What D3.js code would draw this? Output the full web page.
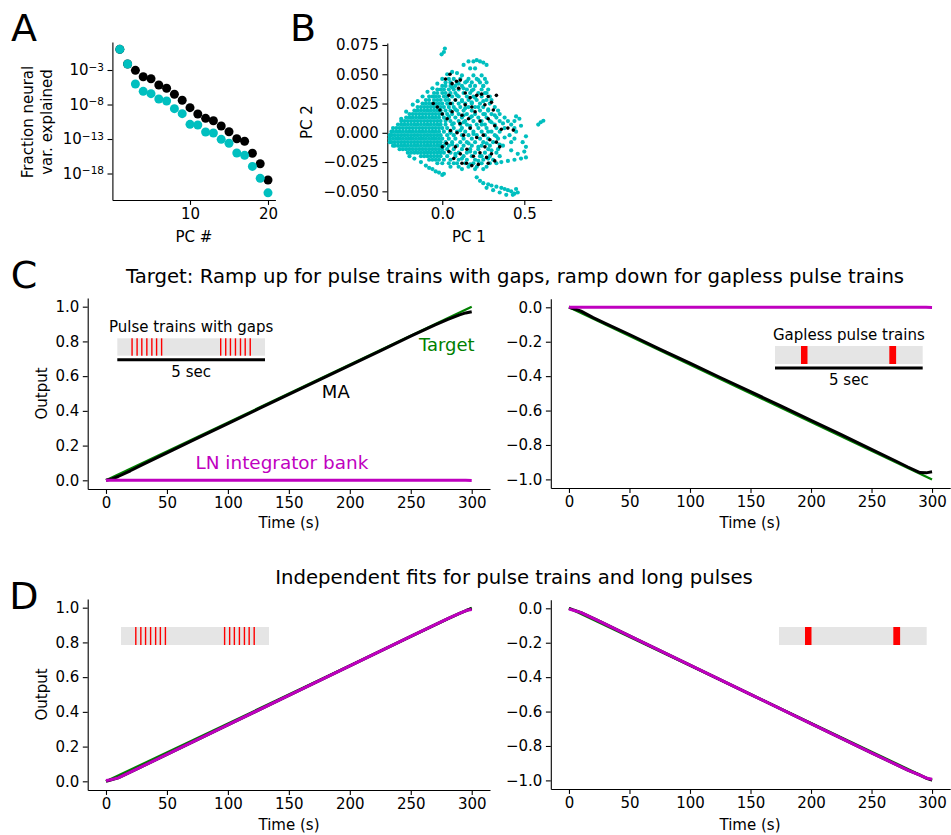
<!DOCTYPE html>
<html>
<head>
<meta charset="utf-8">
<script src="https://cdn.jsdelivr.net/npm/d3@7"></script>
<style>
  body { margin: 0; background: #fff; }
  text { font-family: "DejaVu Sans", sans-serif; }
</style>
</head>
<body>
<script>
// ---- data ----
var pcIndex = [1,2,3,4,5,6,7,8,9,10,11,12,13,14,15,16,17,18,19,20];
// log10 of fraction of neural variance explained
var logVarMA = [0.0,-2.13,-3.05,-3.97,-4.26,-5.17,-5.65,-6.52,-7.39,-8.46,-9.38,-10.0,-10.35,-11.12,-11.94,-12.96,-13.33,-15.07,-16.58,-18.94];
var logVarLN = [0.0,-2.13,-5.03,-6.09,-6.43,-7.2,-7.49,-8.6,-9.33,-10.87,-10.97,-11.99,-12.13,-13.05,-13.62,-15.03,-15.37,-16.97,-18.7,-20.8];
var logTicksA = [-3,-8,-13,-18];

// PC projection cloud, rows of [pc2, [pc1 values]]
var cyanRows = [
  [0.049,[0.12,0.19,0.24]],
  [0.046,[0.04,0.07,0.11,0.16,0.21,0.26]],
  [0.043,[0.02,0.05,0.09,0.14,0.18,0.23,0.27]],
  [0.040,[0.0,0.02,0.05,0.08,0.12,0.17,0.2,0.25]],
  [0.037,[-0.03,-0.01,0.01,0.04,0.07,0.1,0.15,0.19,0.24,0.28]],
  [0.034,[-0.05,-0.03,0.0,0.02,0.05,0.08,0.13,0.17,0.22,0.26]],
  [0.031,[-0.08,-0.06,-0.04,-0.02,0.01,0.03,0.06,0.1,0.15,0.19,0.24,0.29]],
  [0.028,[-0.1,-0.08,-0.05,-0.03,-0.01,0.02,0.04,0.08,0.12,0.16,0.21,0.27,0.3]],
  [0.025,[-0.12,-0.1,-0.08,-0.06,-0.04,-0.02,0.0,0.03,0.06,0.1,0.14,0.18,0.23,0.29]],
  [0.022,[-0.15,-0.13,-0.11,-0.09,-0.07,-0.05,-0.03,-0.01,0.01,0.04,0.07,0.11,0.16,0.2,0.25,0.32]],
  [0.019,[-0.17,-0.15,-0.13,-0.11,-0.09,-0.07,-0.05,-0.03,-0.01,0.02,0.05,0.09,0.13,0.18,0.23,0.28,0.34]],
  [0.016,[-0.2,-0.18,-0.16,-0.14,-0.12,-0.1,-0.08,-0.06,-0.04,-0.02,0.0,0.03,0.06,0.1,0.15,0.2,0.26,0.3,0.35]],
  [0.013,[-0.22,-0.2,-0.18,-0.16,-0.14,-0.12,-0.1,-0.08,-0.06,-0.04,-0.02,0.01,0.04,0.08,0.12,0.17,0.22,0.27,0.33,0.38]],
  [0.010,[-0.25,-0.23,-0.21,-0.19,-0.17,-0.15,-0.13,-0.11,-0.09,-0.07,-0.05,-0.03,-0.01,0.02,0.05,0.1,0.14,0.19,0.24,0.29,0.35,0.4]],
  [0.007,[-0.27,-0.25,-0.23,-0.21,-0.19,-0.17,-0.15,-0.13,-0.11,-0.09,-0.07,-0.05,-0.03,-0.01,0.02,0.06,0.11,0.15,0.21,0.26,0.32,0.42]],
  [0.004,[-0.3,-0.28,-0.26,-0.24,-0.22,-0.2,-0.18,-0.16,-0.14,-0.12,-0.1,-0.08,-0.06,-0.04,-0.02,0.0,0.03,0.07,0.12,0.17,0.22,0.27,0.33,0.38,0.44]],
  [0.001,[-0.31,-0.3,-0.28,-0.26,-0.24,-0.22,-0.2,-0.18,-0.16,-0.14,-0.12,-0.1,-0.08,-0.06,-0.04,-0.02,0.01,0.05,0.09,0.14,0.19,0.24,0.3,0.35,0.45]],
  [-0.002,[-0.32,-0.31,-0.29,-0.27,-0.25,-0.23,-0.21,-0.19,-0.17,-0.15,-0.13,-0.11,-0.09,-0.07,-0.05,-0.03,-0.01,0.03,0.07,0.12,0.16,0.21,0.26,0.32,0.41]],
  [-0.005,[-0.32,-0.3,-0.28,-0.26,-0.24,-0.22,-0.2,-0.18,-0.16,-0.14,-0.12,-0.1,-0.08,-0.06,-0.04,-0.02,0.0,0.04,0.08,0.13,0.18,0.23,0.28,0.34,0.44]],
  [-0.008,[-0.32,-0.31,-0.29,-0.27,-0.25,-0.23,-0.21,-0.19,-0.17,-0.15,-0.13,-0.11,-0.09,-0.07,-0.05,-0.03,-0.01,0.02,0.06,0.11,0.15,0.2,0.25,0.31,0.42]],
  [-0.011,[-0.3,-0.29,-0.27,-0.25,-0.23,-0.21,-0.19,-0.17,-0.15,-0.13,-0.11,-0.09,-0.07,-0.05,-0.03,-0.01,0.01,0.04,0.09,0.13,0.18,0.24,0.29,0.37]],
  [-0.014,[-0.26,-0.24,-0.22,-0.2,-0.18,-0.16,-0.14,-0.12,-0.1,-0.08,-0.06,-0.04,-0.02,0.0,0.03,0.07,0.12,0.17,0.22,0.28,0.34]],
  [-0.017,[-0.21,-0.19,-0.17,-0.15,-0.13,-0.11,-0.09,-0.07,-0.05,-0.03,-0.01,0.01,0.05,0.1,0.15,0.2,0.26,0.33]],
  [-0.020,[-0.13,-0.11,-0.09,-0.07,-0.05,-0.03,-0.01,0.03,0.08,0.13,0.18,0.23,0.29,0.35]],
  [-0.023,[-0.08,-0.06,-0.04,-0.02,0.01,0.05,0.1,0.15,0.2,0.25,0.31]],
  [-0.026,[-0.03,0.0,0.04,0.09,0.14,0.19,0.24,0.29]],
  [-0.029,[0.05,0.1,0.16,0.21,0.27]],
  [-0.031,[0.12,0.2,0.25]]
];
// scattered cyan points outside / between the rows, [pc1, pc2]
var cyanOutliers = [
  [0.016,0.072],[-0.004,0.067],[0.01,0.069],
  [0.13,0.058],[0.16,0.061],[0.19,0.061],[0.21,0.062],[0.23,0.061],[0.25,0.06],[0.27,0.058],[0.2,0.055],[0.17,0.055],
  [0.45,0.014],[0.44,0.01],[0.48,0.006],[0.51,-0.003],[0.51,-0.012],[0.585,0.007],[0.6,0.009],[0.616,0.0103],[0.5,-0.016],[0.47,0.012],[0.49,-0.008],
  [0.33,-0.026],[0.36,-0.025],[0.4,-0.024],[0.44,-0.023],[0.48,-0.022],[0.51,-0.021],[0.42,-0.015],[0.46,-0.018],
  [0.21,-0.038],[0.23,-0.041],[0.25,-0.043],[0.28,-0.044],[0.3,-0.045],[0.33,-0.046],[0.36,-0.047],[0.38,-0.048],[0.4,-0.049],[0.42,-0.05],[0.44,-0.052],[0.46,-0.051],[0.45,-0.048],[0.27,-0.047],[0.31,-0.049],[0.35,-0.051],[0.39,-0.053],[0.43,-0.053],
  [-0.1,-0.028],[-0.08,-0.03],[-0.06,-0.031],[-0.04,-0.033],[-0.02,-0.034],[0.0,-0.036],[0.01,-0.035],[-0.13,-0.025],[-0.17,-0.022],[-0.2,-0.02],
  [-0.25,0.012],[-0.22,0.018],[-0.18,0.024],[-0.15,0.027],[-0.12,0.031],[-0.09,0.035],[-0.06,0.038],[-0.03,0.042],[0.0,0.046],[0.03,0.05],[0.06,0.052],[0.09,0.051],
  [0.06,0.039],[0.1,0.042],[0.15,0.044],[0.22,0.045],[0.13,0.038],[0.18,0.036],[0.25,0.04],[0.09,0.032],[0.2,0.03],[0.27,0.034],[0.12,0.027],[0.18,0.026],[0.25,0.027],
  [0.08,0.02],[0.14,0.021],[0.22,0.022],[0.28,0.02],[0.04,0.014],[0.13,0.015],[0.18,0.014],[0.25,0.016],[0.32,0.015],[0.07,0.008],[0.13,0.009],[0.17,0.006],[0.24,0.007],
  [0.3,0.009],[0.37,0.008],[0.05,0.0],[0.11,0.002],[0.19,-0.001],[0.28,0.001],[0.33,-0.003],[0.38,-0.004],[0.06,-0.01],[0.16,-0.009],[0.22,-0.012],[0.27,-0.009],
  [0.35,-0.01],[0.08,-0.018],[0.17,-0.016],[0.24,-0.02],[0.3,-0.015],[0.12,-0.022],[0.22,-0.024],[0.28,-0.022],[0.07,-0.026],[0.17,-0.027]
];
var blackPoints = [
  [0.047,0.05],[0.087,0.044],[0.21,0.032],[0.33,0.032],[-0.055,0.025],[-0.014,0.0195],[0.108,0.008],[0.311,0.0195],[0.433,0.0023],[0.148,-0.026],[0.27,-0.021],[0.35,-0.012],[0.026,-0.009],
  [0.02,0.046],[0.06,0.042],[0.1,0.038],[0.04,0.032],[0.08,0.028],[0.14,0.034],[0.17,0.03],[0.24,0.033],[0.28,0.031],[0.3,0.026],[0.26,0.024],[-0.03,0.022],[0.0,0.016],[0.03,0.012],[0.06,0.018],[0.12,0.015],[0.16,0.012],[0.2,0.018],[0.23,0.01],[0.28,0.012],[0.32,0.006],[0.36,0.003],[0.4,0.004],[0.05,0.002],[0.09,0.0],[0.13,-0.002],[0.17,0.004],[0.21,-0.004],[0.25,-0.002],[0.29,-0.006],[0.33,-0.008],[0.0,-0.012],[0.04,-0.016],[0.08,-0.012],[0.11,-0.018],[0.15,-0.014],[0.19,-0.02],[0.23,-0.017],[0.26,-0.012],[0.3,-0.018],[0.32,-0.024],[0.07,-0.022],[0.12,-0.026],[0.18,-0.028],[0.22,-0.027],[0.28,-0.026],[0.14,0.024],[0.18,0.022],[0.11,0.045],[0.05,0.025]
];
var pc1Ticks = [0.0, 0.5];
var pc2Ticks = [-0.05,-0.025,0,0.025,0.05,0.075];

// panel C: time courses
var targetT = [0, 300];
var targetUp = [0, 1];
var targetDown = [0, -1];
var cTime = [0,5,10,20,30,50,75,100,125,150,175,200,225,250,270,280,290,295,300];
var maUp = [0,0.008,0.022,0.055,0.09,0.158,0.243,0.327,0.411,0.495,0.579,0.662,0.746,0.83,0.895,0.926,0.953,0.964,0.971];
var lnUp = [0,0,0,0,0,0,0,0,0,0,0,0,0,0,0,0,0,0,-0.001];
var maDown = [0,-0.01,-0.022,-0.06,-0.093,-0.158,-0.243,-0.325,-0.408,-0.49,-0.573,-0.657,-0.74,-0.825,-0.893,-0.928,-0.96,-0.962,-0.956];
var lnDown = [0,0,0,0,0,0,0,0,0,0,0,0,0,0,0,0,0,0,-0.001];

// panel D: independent fits
var dTime = [0,3,10,25,50,100,150,200,250,280,290,296,300];
var fitMagUp = [0.005,0.008,0.02,0.07,0.155,0.325,0.495,0.665,0.835,0.935,0.967,0.985,0.99];
var fitBlkUp = [0.0,0.006,0.02,0.07,0.155,0.325,0.495,0.665,0.835,0.935,0.967,0.985,0.995];
var fitMagDown = [-0.005,-0.01,-0.025,-0.075,-0.16,-0.33,-0.5,-0.67,-0.84,-0.94,-0.97,-0.988,-0.993];
var fitBlkDown = [0.0,-0.008,-0.025,-0.075,-0.16,-0.33,-0.5,-0.67,-0.84,-0.94,-0.97,-0.99,-0.998];

var timeTicks = [0,50,100,150,200,250,300];
var upTicks = [0,0.2,0.4,0.6,0.8,1.0];
var downTicks = [-1.0,-0.8,-0.6,-0.4,-0.2,0.0];

// stimulus cartoons (seconds within a 5 s window)
var pulseTimes = [0.5,0.67,0.83,1.0,1.17,1.33,1.5,3.5,3.67,3.83,4.0,4.17,4.33,4.5];
var longPulses = [[0.88,1.1],[3.87,4.1]];

// ---- drawing ----
var W = 951, H = 835;
var svg = d3.select('body').append('svg').attr('width', W).attr('height', H);

var CYAN = '#00bfbf', MAG = '#bf00bf', GREEN = '#008000';
var TICK = 15;

function axes(x, y, xTicks, yTicks, xFmt, yFmt) {
  var g = svg.append('g');
  var xr = x.range(), yr = y.range();
  var ax = g.append('g').attr('transform', 'translate(0,' + yr[0] + ')')
    .call(d3.axisBottom(x).tickValues(xTicks).tickSize(4.9).tickPadding(3.5).tickSizeOuter(0)
      .tickFormat(xFmt));
  var ay = g.append('g').attr('transform', 'translate(' + xr[0] + ',0)')
    .call(d3.axisLeft(y).tickValues(yTicks).tickSize(4.9).tickPadding(3.5).tickSizeOuter(0)
      .tickFormat(yFmt));
  g.selectAll('.domain').attr('stroke-width', 1.1);
  g.selectAll('.tick line').attr('stroke-width', 1.1);
  g.selectAll('.tick text').attr('font-size', TICK).attr('font-family', '"DejaVu Sans", sans-serif');
  return {g: g, ax: ax, ay: ay};
}

function label(txt, x, y, size, rot, color, anchor) {
  var t = svg.append('text').attr('x', x).attr('y', y).attr('font-size', size)
    .attr('text-anchor', anchor || 'middle').attr('dominant-baseline', 'central')
    .attr('fill', color || '#000').text(txt);
  if (rot) t.attr('transform', 'rotate(' + rot + ',' + x + ',' + y + ')');
  return t;
}

var intFmt = d3.format('d');
var oneDec = d3.format('.1f');

// panel letters
label('A', 24, 28, 38);
label('B', 303, 28, 38);
label('C', 24, 275, 38);
label('D', 24, 596, 38);

// ---- A ----
var xA = d3.scaleLinear().domain([0.05, 20.95]).range([112.4, 275.4]);
var yA = d3.scaleLog().domain([Math.pow(10, -21.84), Math.pow(10, 1.06)]).range([200, 42]);
var aA = axes(xA, yA, [10, 20], logTicksA.map(function (e) { return Math.pow(10, e); }), intFmt, function () { return ''; });
aA.ay.selectAll('.tick text').each(function (d) {
  var t = d3.select(this);
  var e = Math.round(Math.log10(d));
  t.text(null);
  t.append('tspan').text('10');
  t.append('tspan').attr('dy', '-0.45em').attr('font-size', 10.5).text('\u2212' + Math.abs(e));
});
var dotsA = svg.append('g');
dotsA.selectAll('circle.ma').data(pcIndex).enter().append('circle')
  .attr('cx', function (d) { return xA(d); })
  .attr('cy', function (d, i) { return yA(Math.pow(10, logVarMA[i])); })
  .attr('r', 4.5).attr('fill', '#000');
dotsA.selectAll('circle.ln').data(pcIndex).enter().append('circle')
  .attr('cx', function (d) { return xA(d); })
  .attr('cy', function (d, i) { return yA(Math.pow(10, logVarLN[i])); })
  .attr('r', 4.5).attr('fill', CYAN);
label('Fraction neural', 28, 122, TICK, -90);
label('var. explained', 47, 122, TICK, -90);
label('PC #', 194, 237, TICK);

// ---- B ----
var xB = d3.scaleLinear().domain([-0.335, 0.667]).range([387.3, 551.7]);
var yB = d3.scaleLinear().domain([-0.0574, 0.0767]).range([200, 43]);
axes(xB, yB, pc1Ticks, pc2Ticks, oneDec, d3.format('.3f'));
var cyanPts = [];
cyanRows.forEach(function (r) { r[1].forEach(function (x) { cyanPts.push([x, r[0]]); }); });
cyanPts = cyanPts.concat(cyanOutliers);
var dotsB = svg.append('g');
dotsB.selectAll('circle.c').data(cyanPts).enter().append('circle')
  .attr('cx', function (d) { return xB(d[0]); }).attr('cy', function (d) { return yB(d[1]); })
  .attr('r', 2.1).attr('fill', CYAN);
dotsB.selectAll('circle.k').data(blackPoints).enter().append('circle')
  .attr('cx', function (d) { return xB(d[0]); }).attr('cy', function (d) { return yB(d[1]); })
  .attr('r', 1.8).attr('fill', '#000');
label('PC 2', 307, 122, TICK, -90);
label('PC 1', 469, 237, TICK);

// ---- C and D ----
function linePlot(x, y, ts, vs, color, width) {
  var pts = ts.map(function (t, i) { return [t, vs[i]]; });
  svg.append('path').datum(pts)
    .attr('d', d3.line().x(function (d) { return x(d[0]); }).y(function (d) { return y(d[1]); }))
    .attr('fill', 'none').attr('stroke', color).attr('stroke-width', width)
    .attr('stroke-linejoin', 'round').attr('stroke-linecap', 'butt');
}

function inset(spec) {
  var s = d3.scaleLinear().domain([0, 5]).range([spec.x0, spec.x1]);
  var g = svg.append('g');
  g.append('rect').attr('x', s(0)).attr('y', spec.y).attr('width', s(5) - s(0)).attr('height', spec.h)
    .attr('fill', '#e5e5e5');
  if (spec.long) {
    g.selectAll('rect.p').data(longPulses).enter().append('rect')
      .attr('x', function (d) { return s(d[0]); }).attr('y', spec.y)
      .attr('width', function (d) { return s(d[1]) - s(d[0]); }).attr('height', spec.h)
      .attr('fill', '#ff0000');
  } else {
    g.selectAll('line.p').data(pulseTimes).enter().append('line')
      .attr('x1', function (d) { return s(d); }).attr('x2', function (d) { return s(d); })
      .attr('y1', spec.y).attr('y2', spec.y + spec.h)
      .attr('stroke', '#ff0000').attr('stroke-width', 1.4);
  }
  if (spec.title) {
    label(spec.title, (s(0) + s(5)) / 2, spec.y - 11.5, 15);
    g.append('line').attr('x1', s(0)).attr('x2', s(5)).attr('y1', spec.y + spec.h + 4).attr('y2', spec.y + spec.h + 4)
      .attr('stroke', '#000').attr('stroke-width', 3);
    label('5 sec', (s(0) + s(5)) / 2, spec.y + spec.h + 16, 15);
  }
}

// C left
var xCL = d3.scaleLinear().domain([-15, 315]).range([87.7, 490]);
var yCL = d3.scaleLinear().domain([-0.05, 1.05]).range([489, 298]);
axes(xCL, yCL, timeTicks, upTicks, intFmt, oneDec);
linePlot(xCL, yCL, targetT, targetUp, GREEN, 2.2);
linePlot(xCL, yCL, cTime, maUp, '#000', 3);
linePlot(xCL, yCL, cTime, lnUp, MAG, 3);
inset({x0: 117.3, x1: 265, y: 338.3, h: 17.4, title: 'Pulse trains with gaps'});
label('Target', xCL(279.5), yCL(0.78), 18, 0, GREEN);
label('MA', xCL(188.5), yCL(0.514), 18, 0, '#000');
label('LN integrator bank', xCL(144.3), yCL(0.1), 18.4, 0, MAG);
label('Output', 42, 393.5, TICK, -90);
label('Time (s)', 289, 523, TICK);

// C right
var xCR = d3.scaleLinear().domain([-15, 315]).range([550.8, 950.2]);
var yCR = d3.scaleLinear().domain([-1.05, 0.05]).range([488, 298.7]);
axes(xCR, yCR, timeTicks, downTicks, intFmt, oneDec);
linePlot(xCR, yCR, targetT, targetDown, GREEN, 2.2);
linePlot(xCR, yCR, cTime, maDown, '#000', 3);
linePlot(xCR, yCR, cTime, lnDown, MAG, 3);
inset({x0: 775, x1: 922.7, y: 346, h: 18, long: true, title: 'Gapless pulse trains'});
label('Time (s)', 750, 523, TICK);

label('Target: Ramp up for pulse trains with gaps, ramp down for gapless pulse trains', 515, 276, 19.7);

// D left
var xDL = d3.scaleLinear().domain([-15, 315]).range([87.7, 490]);
var yDL = d3.scaleLinear().domain([-0.05, 1.05]).range([790, 599]);
axes(xDL, yDL, timeTicks, upTicks, intFmt, oneDec);
linePlot(xDL, yDL, targetT, targetUp, GREEN, 2.2);
linePlot(xDL, yDL, dTime, fitBlkUp, '#000', 3);
linePlot(xDL, yDL, dTime, fitMagUp, MAG, 3);
inset({x0: 121, x1: 269, y: 627, h: 18});
label('Output', 42, 694.5, TICK, -90);
label('Time (s)', 289, 825, TICK);

// D right
var xDR = d3.scaleLinear().domain([-15, 315]).range([550.8, 950.2]);
var yDR = d3.scaleLinear().domain([-1.05, 0.05]).range([789, 599.7]);
axes(xDR, yDR, timeTicks, downTicks, intFmt, oneDec);
linePlot(xDR, yDR, targetT, targetDown, GREEN, 2.2);
linePlot(xDR, yDR, dTime, fitBlkDown, '#000', 3);
linePlot(xDR, yDR, dTime, fitMagDown, MAG, 3);
inset({x0: 779, x1: 926.7, y: 627, h: 18, long: true});
label('Time (s)', 750, 825, TICK);

label('Independent fits for pulse trains and long pulses', 514, 577, 19.7);
</script>
</body>
</html>
